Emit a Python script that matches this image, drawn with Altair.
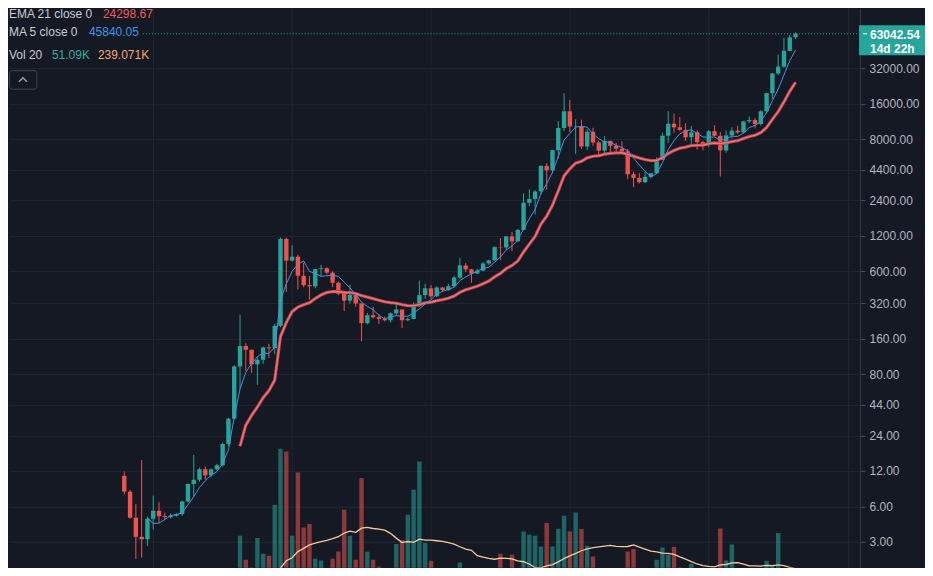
import altair as alt
import pandas as pd

# ---- Monthly BTCUSD candles, Aug 2011 (index 0) .. Apr 2021 (index 116) ----
opens = [10.9, 8.0, 4.8, 3.3, 3.15, 4.7, 5.5, 4.95, 4.85, 5.0,
         5.15, 6.6, 9.3, 10.1, 12.4, 11.0, 12.4, 13.4, 20.4, 33.4,
         93, 139, 129, 97, 106, 135, 133, 206, 1130, 740,
         800, 550, 457, 447, 627, 637, 585, 480, 387, 338,
         378, 320, 217, 254, 244, 236, 230, 264, 284, 230,
         236, 311, 377, 430, 368, 437, 416, 448, 531, 673,
         624, 575, 608, 700, 742, 964, 958, 1190, 1080, 1350,
         2300, 2480, 2870, 4740, 4340, 6450, 9950, 13800, 10250, 10330,
         6930, 9240, 7500, 6390, 7730, 7030, 6630, 6300, 4020, 3740,
         3440, 3820, 4100, 5320, 8560, 10820, 10080, 9600, 8300, 9150,
         7550, 7190, 9350, 8540, 6410, 8620, 9450, 9140, 11350, 11650,
         10780, 13800, 19700, 29000, 33114, 45200, 58844]
highs = [11.9, 8.3, 6.3, 14.9, 4.9, 7.4, 6.5, 5.3, 5.2, 5.25,
         6.7, 9.4, 16.4, 12.8, 13.1, 12.6, 13.8, 20.9, 34.0, 95,
         256, 147, 130, 112, 137, 145, 215, 1163, 1160, 1000,
         830, 710, 545, 630, 680, 650, 600, 490, 410, 460,
         385, 320, 265, 300, 260, 247, 268, 316, 285, 243,
         326, 500, 470, 460, 448, 440, 468, 550, 780, 705,
         628, 627, 720, 753, 980, 1150, 1200, 1300, 1375, 2760,
         2990, 2940, 4780, 5000, 6470, 11400, 19666, 17200, 11790, 11700,
         9750, 9990, 7780, 8500, 7760, 7410, 7680, 6600, 4240, 4100,
         4200, 4130, 5600, 9080, 13880, 13200, 12330, 10950, 10370, 9500,
         7750, 9580, 10500, 9190, 9470, 10080, 10400, 11440, 12470, 12080,
         14100, 19860, 29300, 41950, 58350, 61780, 64900]
lows = [7.6, 4.7, 2.15, 2.2, 2.75, 3.8, 4.35, 4.6, 4.75, 4.9,
        5.0, 6.5, 7.3, 9.7, 10.1, 10.6, 12.1, 13.1, 19.6, 33,
        60, 85, 82, 65, 98, 110, 118, 200, 400, 730,
        420, 440, 345, 430, 545, 565, 440, 375, 275, 320,
        300, 152, 212, 238, 214, 225, 220, 252, 198, 225,
        235, 300, 350, 350, 363, 400, 410, 436, 520, 590,
        480, 570, 600, 680, 740, 750, 915, 890, 1070, 1340,
        2150, 1830, 2700, 2970, 4100, 5500, 9400, 9200, 6000, 6600,
        6430, 7030, 5750, 6070, 5880, 6100, 6200, 3650, 3120, 3350,
        3380, 3700, 4060, 5320, 7450, 9060, 9400, 7710, 7300, 6520,
        6430, 6870, 8450, 3850, 6150, 8100, 8900, 8980, 10950, 9880,
        10420, 13200, 17600, 28130, 32300, 44960, 56500]
closes = [8.0, 4.8, 3.3, 3.15, 4.7, 5.5, 4.95, 4.85, 5.0, 5.15,
          6.6, 9.3, 10.1, 12.4, 11.0, 12.4, 13.4, 20.4, 33.4, 93,
          139, 129, 97, 106, 135, 133, 206, 1130, 740, 800,
          550, 457, 447, 627, 637, 585, 480, 387, 338, 378,
          320, 217, 254, 244, 236, 230, 264, 284, 230, 236,
          311, 377, 430, 368, 437, 416, 448, 531, 673, 624,
          575, 608, 700, 742, 964, 958, 1190, 1080, 1350, 2300,
          2480, 2870, 4740, 4340, 6450, 9950, 13800, 10250, 10330, 6930,
          9240, 7500, 6390, 7730, 7030, 6630, 6300, 4020, 3740, 3440,
          3820, 4100, 5320, 8560, 10820, 10080, 9600, 8300, 9150, 7550,
          7190, 9350, 8540, 6410, 8620, 9450, 9140, 11350, 11650, 10780,
          13800, 19700, 29000, 33114, 45200, 58844, 63042.54]
# volume, thousands
volumes = [20, 25, 30, 30, 25, 30, 30, 25, 30, 30,
           40, 50, 60, 50, 45, 40, 45, 80, 130, 200,
           510, 319, 257, 492, 367, 351, 757, 1203, 1182, 510,
           1015, 576, 603, 327, 313, 220, 327, 385, 717, 510,
           319, 970, 383, 319, 265, 200, 234, 444, 473, 677,
           877, 1102, 452, 311, 215, 130, 130, 130, 297, 130,
           130, 130, 130, 130, 130, 367, 207, 359, 150, 544,
           518, 510, 425, 611, 425, 566, 669, 544, 696, 563,
           430, 345, 247, 247, 247, 185, 175, 385, 404, 199,
           185, 190, 319, 417, 359, 420, 257, 207, 287, 185,
           180, 207, 170, 568, 313, 441, 207, 140, 140, 207,
           150, 311, 273, 532, 253, 120, 51.09]

price_ticks = [3, 6, 12, 24, 44, 80, 160, 320, 600, 1200, 2400, 4400, 8000, 16000, 32000]
year_grid = [5, 29, 53, 77, 101, 125]
last_price = 63042.54

legend_ema = ("EMA 21 close 0", "24298.67")
legend_ma = ("MA 5 close 0", "45840.05")
legend_vol = ("Vol 20", "51.09K", "239.071K")
price_tag = ("63042.54", "14d 22h")

n = len(closes)
# EMA 21 of close (the chart's indicator), seeded with the 21-bar simple mean
alpha = 2 / 22
ema = [None] * n
ema[20] = sum(closes[:21]) / 21
for k in range(21, n):
    ema[k] = alpha * closes[k] + (1 - alpha) * ema[k - 1]

df = pd.DataFrame({"i": list(range(n)), "open": opens, "high": highs, "low": lows,
                   "close": closes, "vol": volumes, "ema": ema})
df["dir"] = ["up" if c >= o else "down" for o, c in zip(opens, closes)]

BG = "#151924"
UP = "#26a69a"
DOWN = "#ef5350"
GRID = "#222631"
TXT = "#b2b5be"
FONT = "Liberation Sans"

W, H = 852, 560
x_enc = alt.X("i:Q", scale=alt.Scale(domain=[-19.06, 126.29], nice=False, zero=False),
              axis=alt.Axis(values=year_grid, labels=False, ticks=False, domain=False,
                            grid=True, gridColor=GRID, title=None))
yscale = alt.Scale(type="log", domain=[1.8027, 103914], nice=False)
yaxis = alt.Axis(orient="right", values=price_ticks, format=".2f", title=None,
                 labelColor=TXT, labelFont=FONT, labelFontSize=12, labelPadding=4,
                 tickSize=5, tickColor="#4a4e5a", domainColor="#363a45",
                 grid=True, gridColor=GRID)
vscale = alt.Scale(domain=[255.0, 4718.0], nice=False, zero=False)
cscale = alt.Scale(domain=["up", "down"], range=[UP, DOWN])
color = alt.Color("dir:N", scale=cscale, legend=None)

base = alt.Chart(df)

vol_bars = base.mark_bar(size=4.4, opacity=0.55, clip=True).encode(
    x=x_enc, y=alt.Y("vol:Q", scale=vscale, axis=None), y2=alt.datum(0), color=color)
vol_ma = base.transform_window(
    volma="mean(vol)", frame=[-19, 0], sort=[alt.SortField("i")]
).transform_filter("datum.i >= 19").mark_line(
    color="#f3c9a0", strokeWidth=1.3, clip=True
).encode(x=x_enc, y=alt.Y("volma:Q", scale=vscale, axis=None))
vol_layer = alt.layer(vol_bars, vol_ma)

wicks = base.mark_rule(strokeWidth=1).encode(
    x=x_enc, y=alt.Y("low:Q", scale=yscale, axis=yaxis), y2="high:Q", color=color)
bodies = base.mark_bar(size=4.4).encode(
    x=x_enc, y=alt.Y("open:Q", scale=yscale, axis=yaxis), y2="close:Q", color=color)
ema_src = base.transform_filter("datum.ema != null")
ema_outer = ema_src.mark_line(color="#c2434c", strokeWidth=3.2).encode(
    x=x_enc, y=alt.Y("ema:Q", scale=yscale, axis=yaxis))
ema_inner = ema_src.mark_line(color="#e9777c", strokeWidth=1.4).encode(
    x=x_enc, y=alt.Y("ema:Q", scale=yscale, axis=yaxis))
ma5 = base.transform_window(
    ma5="mean(close)", frame=[-4, 0], sort=[alt.SortField("i")]
).transform_filter("datum.i >= 4").mark_line(color="#4593e0", strokeWidth=1).encode(
    x=x_enc, y=alt.Y("ma5:Q", scale=yscale, axis=yaxis))

pdf = alt.Chart(pd.DataFrame({"p": [last_price]}))
price_line = pdf.mark_rule(color=UP, strokeDash=[1, 2], strokeWidth=1).encode(
    y=alt.Y("p:Q", scale=yscale, axis=yaxis))
tag_box = pdf.mark_rect(color=UP, yOffset=-8.5, y2Offset=21.5).encode(
    y=alt.Y("p:Q", scale=yscale, axis=yaxis), y2="p:Q",
    x=alt.value(851), x2=alt.value(917))
tag_tick = pdf.mark_rule(color="#ffffff", strokeWidth=1).encode(
    y=alt.Y("p:Q", scale=yscale, axis=yaxis), x=alt.value(855), x2=alt.value(859))
tag_t1 = pdf.mark_text(text=price_tag[0], align="left", baseline="middle", dy=1,
                       font=FONT, fontSize=12, fontWeight="bold", color="#ffffff").encode(
    y=alt.Y("p:Q", scale=yscale, axis=yaxis), x=alt.value(862))
tag_t2 = pdf.mark_text(text=price_tag[1], align="left", baseline="middle", dy=15,
                       font=FONT, fontSize=12, fontWeight="bold", color="#ffffff").encode(
    y=alt.Y("p:Q", scale=yscale, axis=yaxis), x=alt.value(862))

price_layer = alt.layer(wicks, bodies, ema_outer, ema_inner, ma5,
                        price_line, tag_box, tag_tick, tag_t1, tag_t2)

one = alt.Chart(pd.DataFrame({"a": [0]}))


def txt(s, x, y, c, size=12):
    return one.mark_text(text=s, align="left", baseline="middle", font=FONT,
                         fontSize=size, color=c).encode(x=alt.value(x), y=alt.value(y))


legend_bg = one.mark_rect(color=BG).encode(
    x=alt.value(0), x2=alt.value(133), y=alt.value(17), y2=alt.value(31))
legend = alt.layer(
    legend_bg,
    txt(legend_ema[0], 0, 6, "#c9cbd3"), txt(legend_ema[1], 94, 6, "#f05a5c"),
    txt(legend_ma[0], 0, 24, "#c9cbd3"), txt(legend_ma[1], 80, 24, "#3d96e6"),
    txt(legend_vol[0], 0, 47, "#c9cbd3"), txt(legend_vol[1], 43, 47, "#2fae9f"),
    txt(legend_vol[2], 89, 47, "#f4a571"),
    one.mark_rect(stroke="#434651", strokeWidth=1, fillOpacity=0, cornerRadius=3).encode(
        x=alt.value(0.5), x2=alt.value(28), y=alt.value(62.5), y2=alt.value(81)),
    one.mark_point(shape="M-1,0.5L0,-0.5L1,0.5", size=64, filled=False,
                   stroke="#d1d4dc", strokeWidth=1.5).encode(
        x=alt.value(14), y=alt.value(71.5)),
)

chart = alt.layer(vol_layer, price_layer, legend).resolve_scale(
    y="independent"
).properties(width=W, height=H, padding=0, background=BG).configure_view(stroke=None)

chart.save("out.html", embed_options={"renderer": "svg", "actions": False})
